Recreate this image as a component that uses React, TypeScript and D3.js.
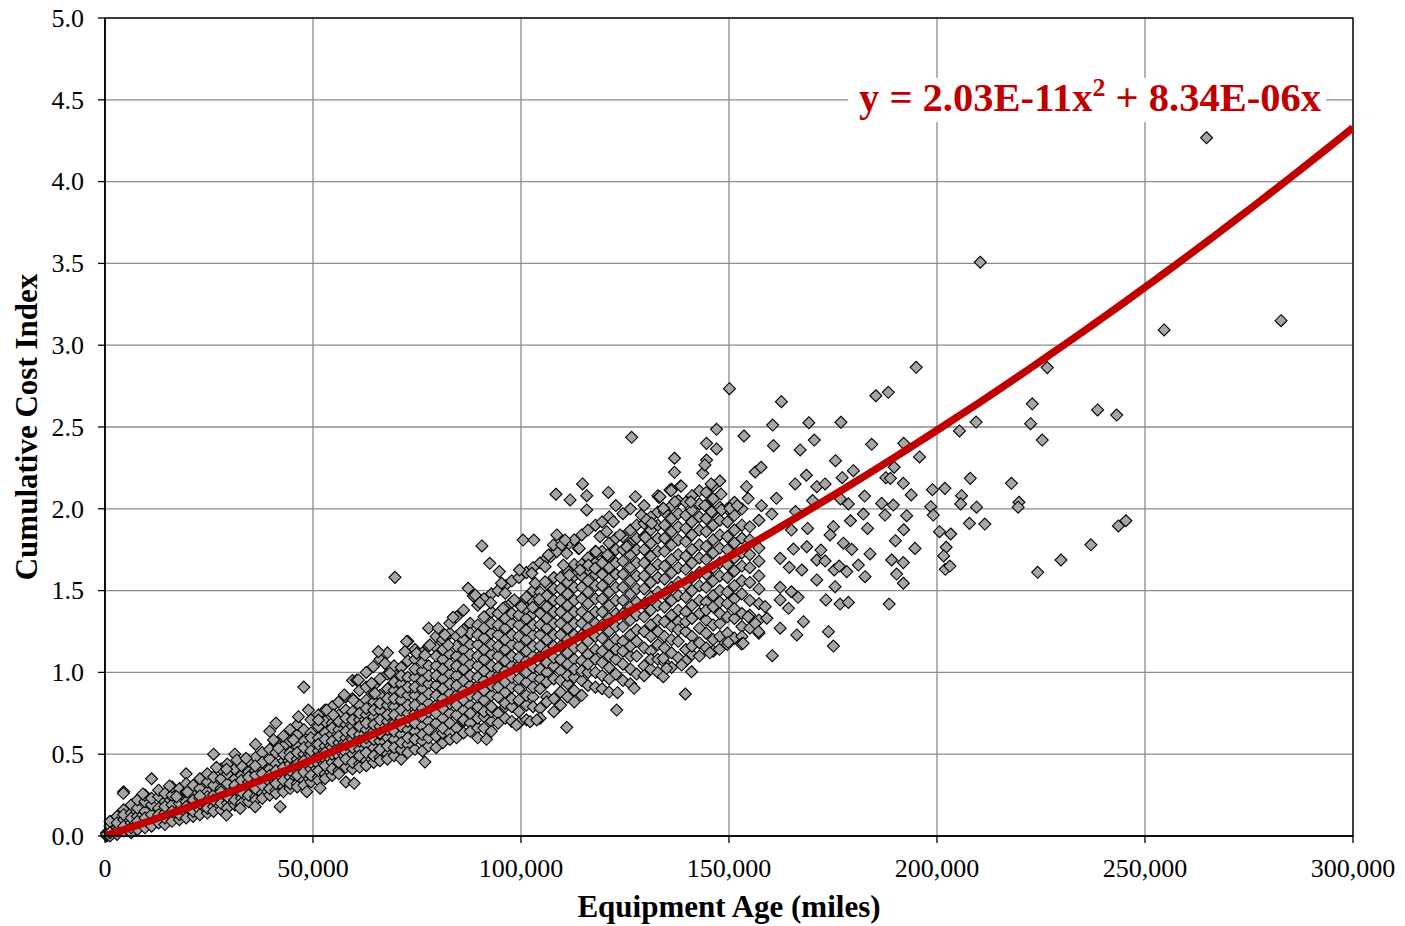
import React from "react";
import * as d3 from "d3";

// trend line coefficients (Excel polynomial fit, intercept 0)
const trendA = 2.03e-11;
const trendB = 8.34e-6;

const xTicks = [0, 50000, 100000, 150000, 200000, 250000, 300000];
const yTicks = [0, 0.5, 1, 1.5, 2, 2.5, 3, 3.5, 4, 4.5, 5];

// dense part of the cloud: [miles in thousands, cost index values at that age]
const cloudColumns: [number, number[]][] = [
  [0.4, [0.0, 0.02, 0.01]],
  [1.2, [0.0, 0.03, 0.06, 0.02, 0.09]],
  [2.9, [0.01, 0.05, 0.12, 0.03, 0.08]],
  [4.5, [0.03, 0.1, 0.16, 0.06, 0.27, 0.13]],
  [6.3, [0.02, 0.08, 0.14, 0.19, 0.05, 0.11]],
  [7.8, [0.06, 0.12, 0.04, 0.17, 0.22, 0.09]],
  [9.6, [0.07, 0.15, 0.05, 0.21, 0.11, 0.25]],
  [11.2, [0.08, 0.13, 0.19, 0.35, 0.06, 0.23]],
  [12.9, [0.1, 0.17, 0.08, 0.24, 0.13, 0.28]],
  [14.4, [0.07, 0.14, 0.21, 0.11, 0.26, 0.18]],
  [16.1, [0.12, 0.19, 0.09, 0.25, 0.15, 0.3]],
  [17.9, [0.1, 0.16, 0.23, 0.13, 0.29, 0.2]],
  [19.5, [0.14, 0.21, 0.11, 0.27, 0.38, 0.18, 0.32]],
  [21.2, [0.12, 0.19, 0.25, 0.15, 0.31, 0.22]],
  [22.8, [0.16, 0.23, 0.13, 0.29, 0.35, 0.2]],
  [24.6, [0.14, 0.2, 0.27, 0.17, 0.33, 0.24, 0.38]],
  [26.1, [0.18, 0.25, 0.15, 0.31, 0.5, 0.22, 0.36]],
  [27.9, [0.16, 0.23, 0.29, 0.2, 0.35, 0.27, 0.41]],
  [29.4, [0.2, 0.26, 0.17, 0.32, 0.38, 0.24, 0.44]],
  [31.2, [0.19, 0.28, 0.22, 0.35, 0.5, 0.31, 0.41]],
  [32.8, [0.23, 0.3, 0.2, 0.37, 0.27, 0.43, 0.34]],
  [34.5, [0.21, 0.29, 0.25, 0.39, 0.33, 0.46, 0.36]],
  [36.2, [0.24, 0.32, 0.22, 0.4, 0.29, 0.56, 0.37, 0.48]],
  [37.8, [0.26, 0.34, 0.23, 0.42, 0.31, 0.51, 0.38, 0.45]],
  [39.6, [0.25, 0.33, 0.41, 0.29, 0.47, 0.64, 0.37, 0.53]],
  [41.1, [0.28, 0.36, 0.26, 0.44, 0.32, 0.51, 0.69, 0.4, 0.57]],
  [42.9, [0.3, 0.38, 0.27, 0.46, 0.34, 0.55, 0.42, 0.5, 0.61]],
  [44.5, [0.29, 0.36, 0.44, 0.32, 0.51, 0.4, 0.58, 0.48, 0.65]],
  [46.2, [0.32, 0.4, 0.3, 0.47, 0.37, 0.55, 0.44, 0.62, 0.51, 0.68]],
  [47.8, [0.34, 0.42, 0.31, 0.5, 0.39, 0.58, 0.46, 0.65, 0.91, 0.54]],
  [49.5, [0.33, 0.41, 0.49, 0.37, 0.56, 0.45, 0.63, 0.52, 0.71, 0.6]],
  [51.3, [0.36, 0.44, 0.34, 0.52, 0.4, 0.6, 0.48, 0.67, 0.56, 0.74]],
  [52.9, [0.38, 0.47, 0.35, 0.55, 0.43, 0.63, 0.51, 0.7, 0.59, 0.77]],
  [54.6, [0.37, 0.45, 0.54, 0.41, 0.62, 0.5, 0.69, 0.58, 0.79, 0.66]],
  [56.2, [0.4, 0.49, 0.38, 0.57, 0.45, 0.65, 0.53, 0.74, 0.61, 0.82, 0.7]],
  [57.9, [0.42, 0.51, 0.33, 0.6, 0.47, 0.68, 0.56, 0.77, 0.64, 0.85, 0.72]],
  [59.5, [0.41, 0.5, 0.59, 0.45, 0.67, 0.54, 0.76, 0.63, 0.95, 0.71, 0.84]],
  [61.2, [0.44, 0.53, 0.42, 0.62, 0.49, 0.71, 0.58, 0.8, 0.67, 0.89, 0.75]],
  [62.8, [0.46, 0.56, 0.43, 0.65, 0.51, 0.74, 0.6, 0.83, 0.69, 1.0, 0.78, 0.91]],
  [64.6, [0.45, 0.54, 0.64, 0.49, 0.73, 0.59, 0.82, 0.68, 0.92, 0.77, 0.87]],
  [66.1, [0.48, 0.58, 0.46, 0.67, 0.53, 0.77, 0.62, 0.86, 0.71, 1.08, 0.81, 0.96]],
  [67.9, [0.5, 0.6, 0.47, 0.7, 0.55, 0.8, 0.65, 0.9, 0.74, 1.12, 0.84, 0.99]],
  [69.5, [0.49, 0.59, 0.69, 0.54, 0.79, 0.64, 0.89, 0.74, 0.99, 0.84, 0.94, 1.04]],
  [71.2, [0.47, 0.62, 0.53, 0.72, 0.57, 0.83, 0.67, 0.93, 0.77, 1.03, 0.88, 0.98]],
  [72.8, [0.56, 0.65, 0.51, 0.75, 0.6, 0.86, 0.7, 0.97, 0.8, 1.19, 0.91, 1.07]],
  [74.5, [0.53, 0.64, 0.75, 0.59, 0.86, 0.69, 0.97, 0.8, 1.08, 0.91, 1.02, 1.14]],
  [76.3, [0.58, 0.67, 0.52, 0.78, 0.62, 0.9, 0.73, 1.01, 0.84, 1.12, 0.95, 1.06]],
  [77.8, [0.55, 0.7, 0.6, 0.81, 0.65, 0.93, 0.76, 1.04, 0.87, 1.27, 0.98, 1.16]],
  [79.6, [0.61, 0.69, 0.8, 0.54, 0.92, 0.75, 1.04, 0.86, 1.15, 0.98, 1.1, 1.22]],
  [81.2, [0.57, 0.72, 0.63, 0.84, 0.66, 0.96, 0.78, 1.08, 0.9, 1.2, 1.02, 1.14]],
  [82.9, [0.63, 0.75, 0.59, 0.87, 0.69, 0.99, 0.81, 1.11, 0.93, 1.24, 1.05, 1.3]],
  [84.5, [0.66, 0.74, 0.86, 0.6, 0.98, 0.8, 1.1, 0.92, 1.22, 1.04, 1.16, 1.34]],
  [86.2, [0.63, 0.77, 0.7, 0.89, 0.71, 1.02, 0.83, 1.14, 0.95, 1.26, 1.08, 1.2, 1.38]],
  [87.8, [0.69, 0.8, 0.64, 0.92, 0.75, 1.05, 0.86, 1.17, 0.98, 1.3, 1.11, 1.24]],
  [89.6, [0.66, 0.79, 0.92, 0.72, 1.04, 0.85, 1.17, 0.97, 1.29, 1.1, 1.23, 1.41, 0.6]],
  [91.1, [0.73, 0.83, 0.66, 0.95, 0.76, 1.08, 0.89, 1.21, 1.01, 1.34, 1.14, 1.27, 1.45]],
  [92.9, [0.7, 0.86, 0.76, 0.98, 0.79, 1.11, 0.92, 1.24, 1.04, 1.37, 1.17, 1.3, 1.48, 0.64]],
  [94.5, [0.75, 0.85, 0.98, 0.69, 1.1, 0.91, 1.23, 1.03, 1.36, 1.16, 1.29, 1.5]],
  [96.2, [0.72, 0.88, 0.79, 1.01, 0.81, 1.14, 0.94, 1.27, 1.07, 1.4, 1.2, 1.33, 1.53]],
  [97.8, [0.79, 0.91, 0.7, 1.04, 0.84, 1.17, 0.97, 1.3, 1.1, 1.43, 1.23, 1.36, 1.56]],
  [99.5, [0.76, 0.9, 1.04, 0.83, 1.16, 0.96, 1.29, 1.09, 1.42, 1.22, 1.35, 1.58, 0.69]],
  [101.3, [0.8, 0.94, 0.71, 1.07, 0.86, 1.2, 1.0, 1.33, 1.13, 1.46, 1.26, 1.39, 1.61]],
  [102.9, [0.85, 0.97, 0.79, 1.1, 0.91, 1.23, 1.03, 1.36, 1.16, 1.5, 1.29, 1.43, 1.64]],
  [104.6, [0.78, 0.96, 1.1, 0.9, 1.23, 1.02, 1.36, 1.16, 1.49, 1.29, 1.43, 1.67, 0.72]],
  [106.2, [0.85, 1.0, 0.82, 1.13, 0.94, 1.27, 1.06, 1.4, 1.2, 1.54, 1.33, 1.47, 1.7]],
  [107.9, [0.84, 1.04, 0.76, 1.16, 0.96, 1.3, 1.09, 1.44, 1.23, 1.58, 1.37, 1.51, 1.74]],
  [109.5, [0.88, 1.01, 1.16, 0.95, 1.3, 1.08, 1.44, 1.23, 1.58, 1.37, 1.51, 1.76, 0.8]],
  [111.2, [0.93, 1.05, 0.85, 1.2, 0.98, 1.34, 1.12, 1.48, 1.27, 1.62, 1.41, 1.55, 1.78]],
  [112.8, [0.89, 1.08, 0.97, 1.23, 1.02, 1.37, 1.15, 1.52, 1.3, 1.66, 1.44, 1.59, 1.81, 0.82]],
  [114.6, [0.95, 1.07, 1.23, 1.01, 1.37, 1.15, 1.52, 1.3, 1.66, 1.45, 1.59, 1.84, 0.86]],
  [116.1, [0.92, 1.11, 1.0, 1.27, 1.05, 1.42, 1.19, 1.56, 1.34, 1.7, 1.49, 1.63, 1.87]],
  [117.9, [1.0, 1.14, 0.91, 1.3, 1.08, 1.45, 1.22, 1.6, 1.37, 1.74, 1.53, 1.67, 1.9]],
  [119.5, [0.98, 1.13, 1.29, 1.06, 1.45, 1.21, 1.6, 1.37, 1.74, 1.53, 1.67, 1.92, 0.9]],
  [121.2, [1.03, 1.17, 0.96, 1.33, 1.1, 1.49, 1.25, 1.64, 1.41, 1.79, 1.57, 1.71, 1.95, 0.88]],
  [122.8, [0.99, 1.2, 1.08, 1.36, 1.14, 1.52, 1.28, 1.67, 1.44, 1.82, 1.6, 1.75, 2.02]],
  [124.5, [1.05, 1.19, 1.36, 1.13, 1.52, 1.28, 1.68, 1.44, 1.83, 1.6, 1.75, 1.97, 0.95]],
  [126.3, [1.02, 1.23, 1.1, 1.4, 1.16, 1.56, 1.32, 1.72, 1.48, 1.87, 1.64, 1.79, 2.0, 0.93]],
  [127.8, [1.1, 1.26, 0.99, 1.43, 1.19, 1.59, 1.35, 1.75, 1.51, 1.9, 1.67, 1.82]],
  [129.6, [1.04, 1.25, 1.42, 1.15, 1.59, 1.34, 1.75, 1.51, 1.91, 1.67, 1.83, 2.02, 0.98]],
  [131.2, [1.13, 1.29, 1.02, 1.46, 1.22, 1.63, 1.38, 1.79, 1.55, 1.95, 1.71, 1.87, 1.08]],
  [132.9, [1.08, 1.32, 1.17, 1.49, 1.25, 1.66, 1.41, 1.82, 1.58, 1.98, 1.74, 1.9, 2.08, 1.0]],
  [134.5, [1.15, 1.31, 1.48, 1.22, 1.65, 1.4, 1.82, 1.57, 1.98, 1.74, 1.9, 1.06]],
  [136.2, [1.12, 1.35, 1.2, 1.52, 1.28, 1.69, 1.44, 1.86, 1.61, 2.02, 1.78, 1.94, 2.12, 1.03]],
  [137.8, [1.19, 1.38, 1.09, 1.55, 1.31, 1.72, 1.47, 1.89, 1.64, 2.05, 1.81, 1.97, 1.26]],
  [139.6, [1.14, 1.37, 1.54, 1.25, 1.71, 1.46, 1.88, 1.63, 2.04, 1.8, 1.96, 1.07, 1.31]],
  [141.1, [1.22, 1.41, 1.11, 1.58, 1.33, 1.75, 1.5, 1.92, 1.67, 2.08, 1.84, 1.99, 1.16]],
  [142.9, [1.18, 1.44, 1.27, 1.61, 1.36, 1.78, 1.53, 1.95, 1.7, 2.11, 1.87, 2.03, 1.1]],
  [144.5, [1.24, 1.43, 1.6, 1.32, 1.77, 1.52, 1.94, 1.69, 2.1, 1.86, 2.02, 1.15, 1.38]],
  [146.2, [1.2, 1.47, 1.29, 1.64, 1.4, 1.81, 1.56, 1.98, 1.73, 2.14, 1.9, 2.06, 1.13]],
  [147.8, [1.3, 1.5, 1.22, 1.67, 1.43, 1.84, 1.59, 2.01, 1.76, 2.17, 1.93, 1.36]],
  [149.6, [1.24, 1.49, 1.66, 1.34, 1.83, 1.58, 2.0, 1.75, 1.92, 1.17, 1.42]],
  [151.3, [1.33, 1.53, 1.21, 1.7, 1.45, 1.87, 1.62, 2.04, 1.79, 1.96, 1.39]],
  [153.1, [1.28, 1.56, 1.36, 1.73, 1.48, 1.9, 1.65, 1.82, 2.0, 1.22]],
  [155.0, [1.35, 1.55, 1.72, 1.44, 1.89, 1.64, 1.81, 1.27]],
  [157.2, [1.32, 1.59, 1.42, 1.76, 1.51, 1.68, 1.93, 1.24]],
];

// scattered points around and outside the dense band: [miles in thousands, index]
const scatteredPoints: [number, number][] = [
  [4.4, 0.261], [9.1, 0.257], [15.5, 0.306], [17.2, 0.24], [19.8, 0.27], [22.8, 0.245],
  [26.8, 0.42], [29.2, 0.408], [31.7, 0.465], [33.9, 0.475], [36.1, 0.428],
  [40.5, 0.587], [41.7, 0.536], [45.3, 0.587], [46.5, 0.729], [48.9, 0.77], [51.3, 0.709],
  [53.3, 0.77], [54.9, 0.74], [57.7, 0.851], [59.7, 0.831], [60.5, 0.954],
  [29.2, 0.128], [32.5, 0.169], [36.1, 0.179], [42.1, 0.179], [48.5, 0.271], [51.7, 0.292],
  [59.9, 0.322], [66.1, 0.628], [69.7, 1.581], [57.5, 0.862], [60.9, 0.954], [64.1, 0.933],
  [64.9, 0.872], [65.7, 1.127], [64.5, 1.035], [67.3, 1.055], [68.5, 0.995], [72.5, 1.188],
  [72.1, 1.127], [74.9, 1.117], [78.1, 1.167], [76.9, 1.106], [76.9, 0.452], [80.1, 1.27],
  [81.7, 1.229], [85.7, 1.249], [82.5, 1.167], [83.7, 1.337], [87.3, 1.514], [88.5, 1.467],
  [90.1, 1.426], [92.7, 1.426], [95.7, 1.392], [89.0, 1.473], [90.6, 1.773], [92.5, 1.667],
  [94.8, 1.616], [95.3, 1.545], [96.2, 1.484], [98.4, 1.443], [99.6, 1.626], [100.1, 1.402],
  [102.8, 1.398], [104.4, 1.447], [100.5, 1.809], [103.1, 1.809], [102.6, 1.606], [103.4, 1.545],
  [105.8, 1.554], [105.8, 1.646], [107.1, 1.707], [108.6, 1.738], [107.8, 1.779], [109.8, 1.779],
  [108.6, 1.84], [111.0, 1.728], [110.6, 1.809], [113.8, 1.758], [114.2, 1.626], [116.2, 1.656],
  [118.2, 1.728], [117.8, 1.636], [108.4, 2.089], [111.8, 2.054], [114.8, 2.152], [115.8, 2.08],
  [115.8, 1.993], [121.0, 2.1], [127.5, 2.074], [133.2, 2.07], [134.2, 2.003], [135.8, 2.115],
  [138.4, 2.139], [114.0, 1.758], [118.0, 1.738], [120.8, 1.718], [122.2, 1.921], [119.0, 1.83],
  [120.6, 1.86], [123.8, 1.84], [125.8, 1.773], [125.4, 1.768], [128.9, 1.962], [130.2, 1.932],
  [131.4, 1.911], [129.9, 1.826], [106.6, 1.718], [110.2, 1.656], [111.6, 1.595],
  [126.6, 2.437], [111.0, 0.664], [123.0, 0.77], [127.2, 0.903], [123.2, 0.876], [102.2, 0.699],
  [103.8, 0.709], [98.9, 0.678], [91.7, 0.591], [139.5, 0.868], [141.0, 1.004], [138.6, 1.045],
  [134.2, 0.974], [134.2, 1.086], [135.0, 1.025], [145.4, 1.12], [147.7, 1.141], [149.8, 1.184],
  [153.0, 1.174], [160.4, 1.102],
  [150.1, 2.734], [147.0, 2.486], [144.6, 2.4], [147.0, 2.366], [136.9, 2.309], [136.9, 2.223],
  [143.7, 2.217], [144.6, 2.298], [144.2, 2.268], [138.5, 2.139], [136.1, 2.111], [145.7, 2.152],
  [148.1, 2.09], [133.4, 2.074], [134.2, 2.003], [137.0, 2.043], [140.8, 2.043], [144.2, 2.019],
  [145.8, 1.982], [148.2, 1.993], [150.2, 2.003], [152.0, 2.019],
  [162.6, 2.655], [160.5, 2.512], [169.2, 2.526], [176.9, 2.529], [153.6, 2.445], [160.7, 2.386],
  [167.1, 2.36], [170.5, 2.42], [175.6, 2.294], [184.3, 2.394], [185.3, 2.691], [188.3, 2.712],
  [156.3, 2.225], [157.7, 2.254], [154.2, 2.135], [154.6, 2.064], [157.8, 2.019], [160.3, 1.968],
  [161.4, 2.064], [165.9, 2.152], [168.6, 2.205], [171.1, 2.135], [173.1, 2.152], [170.1, 2.05],
  [166.0, 1.983], [177.2, 2.19], [179.9, 2.233], [182.6, 2.078], [178.7, 2.03], [176.8, 2.06],
  [187.7, 2.19], [188.8, 2.186], [189.7, 2.254], [186.7, 2.033], [189.5, 2.023], [187.5, 1.962],
  [175.1, 1.891], [179.2, 1.927], [182.3, 1.968], [183.3, 1.88], [190.0, 1.805], [168.9, 1.88],
  [165.0, 1.87], [174.3, 1.84], [177.5, 1.79], [179.5, 1.752], [183.9, 1.724], [181.1, 1.656],
  [182.7, 1.585], [189.1, 1.687], [190.3, 1.601], [188.5, 1.418], [168.7, 1.768], [172.1, 1.748],
  [165.5, 1.754], [162.3, 1.697], [164.5, 1.642], [167.5, 1.626], [171.1, 1.687], [173.1, 1.681],
  [175.3, 1.626], [176.5, 1.65], [178.3, 1.616], [171.1, 1.565], [175.5, 1.524], [173.3, 1.443],
  [176.7, 1.418], [178.7, 1.428], [162.3, 1.52], [165.0, 1.493], [166.6, 1.459], [164.3, 1.392],
  [162.3, 1.443], [167.9, 1.31], [166.3, 1.229], [162.3, 1.27], [173.9, 1.249], [175.1, 1.161],
  [158.7, 1.402], [159.1, 1.331], [156.3, 1.3], [157.1, 1.249], [154.6, 1.34], [153.4, 1.178],
  [195.0, 2.865], [192.0, 2.4], [195.8, 2.317], [191.9, 2.156], [193.8, 2.085], [198.9, 2.117],
  [201.9, 2.125], [208.0, 2.186], [205.9, 2.08], [205.7, 2.03], [209.5, 2.01], [198.5, 2.013],
  [199.1, 1.962], [192.7, 1.958], [192.0, 1.872], [207.8, 1.911], [211.5, 1.907], [200.6, 1.86],
  [203.3, 1.846], [194.7, 1.758], [202.2, 1.765], [201.6, 1.712], [191.9, 1.671], [202.0, 1.63],
  [203.1, 1.65], [191.9, 1.545], [205.4, 2.476], [209.4, 2.53], [210.4, 3.507],
  [217.9, 2.156], [219.7, 2.04], [219.5, 2.01], [222.9, 2.642], [222.5, 2.52], [225.3, 2.42],
  [226.5, 2.863], [224.2, 1.612], [229.8, 1.687], [237.0, 1.78], [238.6, 2.604], [243.2, 2.573],
  [243.6, 1.895], [245.4, 1.927], [254.6, 3.093], [264.8, 4.268], [282.7, 3.15],
];

const width = 1405;
const height = 926;
const plot = { left: 105, right: 1353, top: 18, bottom: 836 };
const serif = '"Liberation Serif", "Times New Roman", Times, serif';
const diamond = "M0,-6L6,0L0,6L-6,0Z";

export default function App() {
  const x = d3.scaleLinear().domain([0, 300000]).range([plot.left, plot.right]);
  const y = d3.scaleLinear().domain([0, 5]).range([plot.bottom, plot.top]);

  const points: [number, number][] = [];
  cloudColumns.forEach(([mk, vals]) => vals.forEach((v) => points.push([mk * 1000, v])));
  scatteredPoints.forEach(([mk, v]) => points.push([mk * 1000, v]));

  const trendX = d3.range(0, 300001, 2500);
  const trendLine = d3
    .line<number>()
    .x((d) => x(d))
    .y((d) => y(trendA * d * d + trendB * d))(trendX);

  const fmt = d3.format(",d");

  return (
    <svg
      width={width}
      height={height}
      style={{ position: "absolute", left: 0, top: 0, background: "#fff" }}
      fontFamily={serif}
    >
      {/* grid */}
      {yTicks.map((t) => (
        <line key={"gy" + t} x1={plot.left} x2={plot.right} y1={y(t)} y2={y(t)} stroke="#8c8c8c" strokeWidth={1.3} />
      ))}
      {xTicks.map((t) => (
        <line key={"gx" + t} x1={x(t)} x2={x(t)} y1={plot.top} y2={plot.bottom} stroke="#8c8c8c" strokeWidth={1.3} />
      ))}
      <rect
        x={plot.left}
        y={plot.top}
        width={plot.right - plot.left}
        height={plot.bottom - plot.top}
        fill="none"
        stroke="#000"
        strokeWidth={1.3}
      />

      {/* scatter */}
      <g>
        {points.map(([mi, v], i) => (
          <path
            key={i}
            d={diamond}
            transform={`translate(${x(mi)},${y(v)})`}
            fill="#a6a6a6"
            stroke="#000"
            strokeWidth={1.1}
          />
        ))}
      </g>

      <clipPath id="plotClip">
        <rect x={plot.left} y={plot.top} width={plot.right - plot.left} height={plot.bottom - plot.top} />
      </clipPath>
      <path d={trendLine || ""} fill="none" stroke="#c00000" strokeWidth={7.5} clipPath="url(#plotClip)" />

      {/* axes */}
      <line x1={plot.left} x2={plot.left} y1={plot.top} y2={plot.bottom} stroke="#000" strokeWidth={1.5} />
      <line x1={plot.left} x2={plot.right} y1={plot.bottom} y2={plot.bottom} stroke="#000" strokeWidth={1.5} />
      {yTicks.map((t) => (
        <g key={"ty" + t}>
          <line x1={plot.left - 7} x2={plot.left} y1={y(t)} y2={y(t)} stroke="#000" strokeWidth={1.3} />
          <text x={84} y={y(t)} dy="0.34em" textAnchor="end" fontSize={26} fill="#000">
            {t.toFixed(1)}
          </text>
        </g>
      ))}
      {xTicks.map((t) => (
        <g key={"tx" + t}>
          <line x1={x(t)} x2={x(t)} y1={plot.bottom} y2={plot.bottom + 7} stroke="#000" strokeWidth={1.3} />
          <text x={x(t)} y={877} textAnchor="middle" fontSize={26} fill="#000">
            {fmt(t)}
          </text>
        </g>
      ))}

      <text x={729} y={917} textAnchor="middle" fontSize={31} fontWeight="bold" fill="#000">
        Equipment Age (miles)
      </text>
      <text
        transform={`translate(37,${(plot.top + plot.bottom) / 2}) rotate(-90)`}
        textAnchor="middle"
        fontSize={31}
        fontWeight="bold"
        fill="#000"
      >
        Cumulative Cost Index
      </text>

      {/* equation label */}
      <rect x={848} y={78} width={478} height={44} fill="#fff" />
      <text x={859} y={111} fontSize={40.5} fontWeight="bold" fill="#c00000">
        y = 2.03E-11x
        <tspan dy={-15} fontSize={26}>
          2
        </tspan>
        <tspan dy={15}> + 8.34E-06x</tspan>
      </text>
    </svg>
  );
}
